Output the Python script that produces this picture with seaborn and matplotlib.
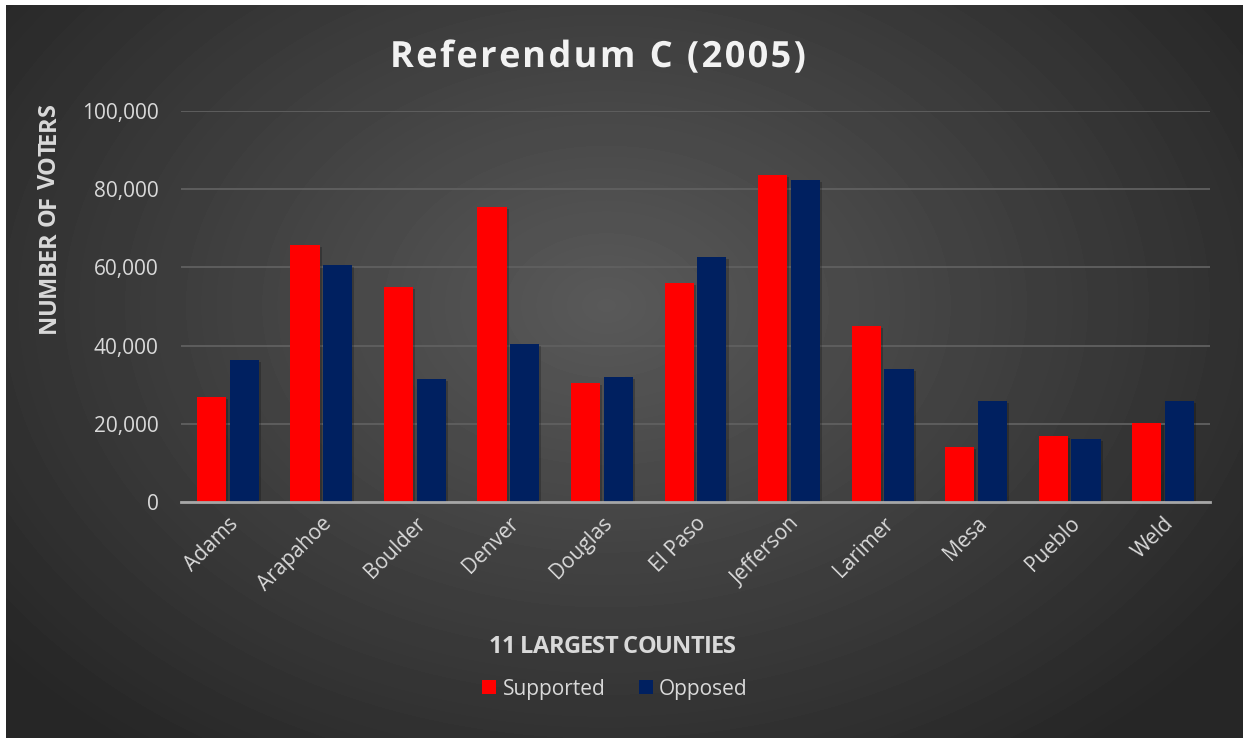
import numpy as np
import pandas as pd
import matplotlib
matplotlib.use('Agg')
import matplotlib.pyplot as plt
import seaborn as sns
from matplotlib.patches import Patch
from matplotlib import patheffects as pe
from matplotlib.font_manager import FontProperties
from matplotlib.ticker import FuncFormatter

# --- données ---
counties = ['Adams', 'Arapahoe', 'Boulder', 'Denver', 'Douglas', 'El Paso',
            'Jefferson', 'Larimer', 'Mesa', 'Pueblo', 'Weld']
supported = [26900, 65700, 55000, 75400, 30400, 56000, 83600, 45000, 14000, 16900, 20200]
opposed = [36300, 60600, 31500, 40400, 32000, 62700, 82400, 34000, 25800, 16100, 25800]
series = ['Supported', 'Opposed']
colors = ['#FF0000', '#002060']
yticks = [0, 20000, 40000, 60000, 80000, 100000]

df = pd.DataFrame({
    'County': counties * 2,
    'Voters': supported + opposed,
    'Vote': [series[0]] * len(counties) + [series[1]] * len(counties),
})

sns.set_theme(style='dark')
plt.rcParams['font.family'] = ['Open Sans', 'DejaVu Sans']

W, H = 1243, 738
fig = plt.figure(figsize=(W / 100, H / 100), dpi=100)
fig.patch.set_facecolor('white')
renderer = fig.canvas.get_renderer()


def spaced_text(text, start_px, end_px, base_px, size, color, vertical=False, effects=None):
    # texte avec espacement des lettres (comme dans Excel), étiré entre start_px et end_px
    prop = FontProperties(family='Open Sans', weight='bold', size=size)
    wpx = lambda s: renderer.get_text_width_height_descent(s, prop, ismath=False)[0]
    natural = wpx(text)
    n = len(text)
    extra = (abs(end_px - start_px) - natural) / (n - 1)
    for i, ch in enumerate(text):
        off = wpx(text[:i]) if i else 0.0
        off += i * extra
        if vertical:
            x, y, rot = base_px, start_px - off, 90
        else:
            x, y, rot = start_px + off, base_px, 0
        t = fig.text(x / W, 1 - y / H, ch, fontproperties=prop, color=color,
                     ha='left', va='baseline', rotation=rot, rotation_mode='anchor')
        if effects:
            t.set_path_effects(effects)


# --- fond dégradé radial ---
bg = fig.add_axes([6 / W, 0, 1 - 6 / W, 1 - 5 / H])
h, w = 733, 1237
yy, xx = np.mgrid[0:h, 0:w]
r = np.sqrt(((xx - 600) / 780) ** 2 + ((yy - 300) / 560) ** 2)
val = 0.35 - 0.2 * np.clip(r, 0, 1)
bg.imshow(val, cmap='gray', vmin=0, vmax=1, aspect='auto', interpolation='bilinear')
bg.axis('off')

# --- graphique principal ---
ax = fig.add_axes([181 / W, 1 - 502 / H, (1210 - 181) / W, (502 - 111) / H])
ax.set_facecolor('none')
sns.barplot(data=df, x='County', y='Voters', hue='Vote', palette=colors,
            width=0.7, gap=0.11, saturation=1, legend=False, linewidth=0, ax=ax)

for bar in ax.patches:
    bar.set_path_effects([pe.SimplePatchShadow(offset=(1.5, -1.5), shadow_rgbFace='black', alpha=0.22),
                          pe.Normal()])

ax.set_ylim(0, 100000)
ax.set_xlim(-0.5, len(counties) - 0.5)
ax.set_yticks(yticks)
ax.yaxis.set_major_formatter(FuncFormatter(lambda v, p: f'{int(v):,}'))
ax.grid(axis='y', color='#606060', linewidth=1.3)
ax.grid(axis='x', visible=False)
ax.set_axisbelow(True)
for s in ['top', 'right', 'left']:
    ax.spines[s].set_visible(False)
ax.spines['bottom'].set_color('#a6a6a6')
ax.spines['bottom'].set_linewidth(2)
ax.set_xlabel('')
ax.set_ylabel('')

ax.tick_params(axis='y', colors='#d9d9d9', labelsize=15, length=0, pad=16)
ax.tick_params(axis='x', colors='#d9d9d9', labelsize=15, length=0, pad=8)
for lab in ax.get_xticklabels():
    lab.set_rotation(45)
    lab.set_ha('right')
    lab.set_rotation_mode('anchor')

# --- textes ---
spaced_text('Referendum C (2005)', 390, 806, 67, 26, '#f2f2f2',
            effects=[pe.SimpleLineShadow(offset=(1.5, -1.5), shadow_color='black', alpha=0.5), pe.Normal()])
spaced_text('NUMBER OF VOTERS', 333, 103, 55, 17, '#d9d9d9', vertical=True)
spaced_text('11 LARGEST COUNTIES', 489, 736, 653, 17, '#d9d9d9')

handles = [Patch(facecolor=c, edgecolor='none', label=s) for c, s in zip(colors, series)]
fig.legend(handles=handles, loc='center', bbox_to_anchor=(615 / W, 1 - 689 / H), ncol=2,
           frameon=False, fontsize=15, labelcolor='#d9d9d9', handlelength=0.67,
           handleheight=0.67, handletextpad=0.3, columnspacing=1.6)

fig.savefig('out.png', dpi=100)
